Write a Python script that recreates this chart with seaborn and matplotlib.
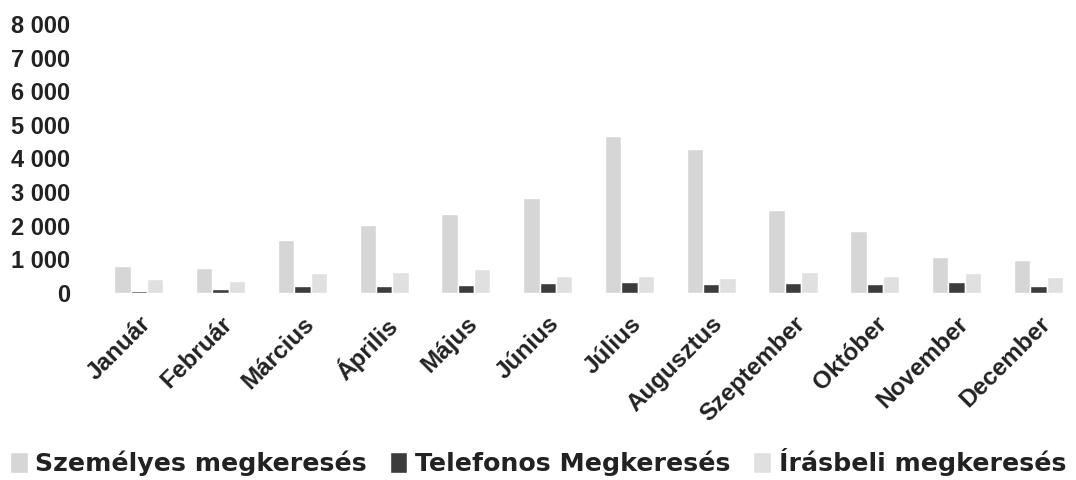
import matplotlib
matplotlib.use("Agg")
import matplotlib.pyplot as plt
import pandas as pd
import seaborn as sns

# --- data ---
months = ["Január", "Február", "Március", "Április", "Május", "Június",
          "Július", "Augusztus", "Szeptember", "Október", "November", "December"]
szemelyes = [800, 740, 1580, 2020, 2350, 2830, 4670, 4280, 2470, 1850, 1070, 980]
telefonos = [60, 120, 200, 200, 240, 290, 320, 270, 300, 270, 330, 210]
irasbeli = [420, 360, 600, 620, 710, 490, 510, 430, 620, 490, 600, 480]

series = ["Személyes megkeresés", "Telefonos Megkeresés", "Írásbeli megkeresés"]
colors = ["#d6d6d6", "#3c3c3c", "#e0e0e0"]
yticks = [0, 1000, 2000, 3000, 4000, 5000, 6000, 7000, 8000]

df = pd.DataFrame({"Hónap": months, series[0]: szemelyes,
                   series[1]: telefonos, series[2]: irasbeli})
long = df.melt(id_vars="Hónap", var_name="Típus", value_name="Érték")

sns.set_theme(style="white")
plt.rcParams["font.family"] = ["Liberation Sans", "DejaVu Sans"]

fig = plt.figure(figsize=(10.76, 4.8), dpi=100)
ax = fig.add_axes([0.091, 0.39, 0.912, 0.56])

sns.barplot(data=long, x="Hónap", y="Érték", hue="Típus", hue_order=series,
            palette=colors, width=0.6, ax=ax, legend=True)

ax.set_ylim(0, 8000)
ax.set_yticks(yticks)
ax.set_yticklabels([f"{v:,}".replace(",", " ") for v in yticks],
                   fontsize=17, fontweight="bold", color="#222222")
ax.set_xticks(range(len(months)))
ax.set_xticklabels(months, rotation=45, ha="right", rotation_mode="anchor",
                   fontsize=17.5, fontweight="bold", color="#222222")
ax.tick_params(axis="y", length=0, pad=20)
ax.tick_params(axis="x", length=0, pad=14)
ax.set_xlabel("")
ax.set_ylabel("")
sns.despine(ax=ax, left=True, bottom=True)
ax.grid(False)

handles, labels = ax.get_legend_handles_labels()
ax.get_legend().remove()
fig.legend(handles, labels, loc="lower center", bbox_to_anchor=(0.5, -0.04),
           ncol=3, frameon=False, handlelength=0.7, handleheight=0.9,
           handletextpad=0.3, columnspacing=0.9,
           prop={"family": "DejaVu Sans", "size": 18.2, "weight": "bold"},
           labelcolor="#222222")

fig.savefig("out.png", dpi=100)
